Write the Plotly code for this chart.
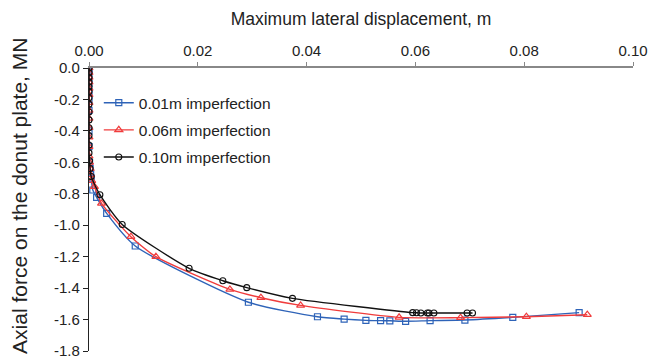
import plotly.graph_objects as go

blue_x = [0, 0, 0, 0, 0, 0, 0, 0, 0, 0.0001, 0.0002, 0.0003, 0.0004, 0.0007, 0.0014, 0.00325,
          0.0085, 0.0293, 0.042, 0.0469, 0.0509, 0.0536, 0.0553, 0.0582, 0.0627, 0.0691, 0.0779, 0.0901]
blue_y = [0, -0.02, -0.05, -0.1, -0.15, -0.2, -0.27, -0.4, -0.5, -0.6, -0.64, -0.67, -0.7, -0.776, -0.823, -0.925,
          -1.132, -1.49, -1.582, -1.597, -1.605, -1.607, -1.608, -1.611, -1.607, -1.603, -1.586, -1.556]

red_x = [0, 0, 0, 0, 0, 0, 0, 0, 0, 0, 0, 0, 0, 0.0001, 0.0002, 0.0003, 0.0005, 0.001, 0.0023,
         0.0077, 0.0123, 0.0259, 0.0316, 0.0389, 0.057, 0.0683, 0.0804, 0.0916]
red_y = [0, -0.03, -0.06, -0.09, -0.13, -0.17, -0.22, -0.27, -0.32, -0.38, -0.44, -0.5, -0.56, -0.6, -0.64, -0.68,
         -0.717, -0.755, -0.861, -1.073, -1.2, -1.408, -1.461, -1.51, -1.586, -1.588, -1.582, -1.569]

black_x = [0, 0, 0, 0, 0, 0, 0, 0, 0, 0, 0, 0, 0, 0, 0.0001, 0.0002, 0.0004, 0.002, 0.0061, 0.0184, 0.0246,
           0.029, 0.0374, 0.0595, 0.0602, 0.061, 0.0622, 0.0625, 0.0634, 0.0695, 0.0705]
black_y = [0, -0.03, -0.06, -0.09, -0.12, -0.15, -0.19, -0.23, -0.28, -0.33, -0.38, -0.43, -0.49, -0.54, -0.59,
           -0.64, -0.69, -0.806, -0.995, -1.274, -1.353, -1.397, -1.465, -1.556, -1.557, -1.558, -1.558, -1.558,
           -1.558, -1.558, -1.558]

series_names = ["0.01m imperfection", "0.06m imperfection", "0.10m imperfection"]

x_tickvals = [0, 0.02, 0.04, 0.06, 0.08, 0.10]
x_ticktext = ["0.00", "0.02", "0.04", "0.06", "0.08", "0.10"]
y_tickvals = [0, -0.2, -0.4, -0.6, -0.8, -1.0, -1.2, -1.4, -1.6, -1.8]
y_ticktext = ["0.0", "-0.2", "-0.4", "-0.6", "-0.8", "-1.0", "-1.2", "-1.4", "-1.6", "-1.8"]

x_title = "Maximum lateral displacement, m"
y_title = "Axial force on the donut plate, MN"

fig = go.Figure()
fig.add_trace(go.Scatter(x=blue_x, y=blue_y, name=series_names[0], legendgroup="a",
                         mode="lines+markers", line=dict(color="#2E63B8", width=1.4, shape="spline", smoothing=0.6),
                         marker=dict(symbol="square-open", size=6, color="#2E63B8", line=dict(width=1.2))))
fig.add_trace(go.Scatter(x=red_x, y=red_y, name=series_names[1], legendgroup="b",
                         mode="lines+markers", line=dict(color="#F03C3C", width=1.4, shape="spline", smoothing=0.6),
                         marker=dict(symbol="triangle-up-open", size=7, color="#F03C3C", line=dict(width=1.2))))
fig.add_trace(go.Scatter(x=black_x, y=black_y, name=series_names[2], legendgroup="c",
                         mode="lines+markers", line=dict(color="#111111", width=1.4, shape="spline", smoothing=0.6),
                         marker=dict(symbol="circle-open", size=6, color="#111111", line=dict(width=1.1))))

font_family = "Liberation Sans, Arial, sans-serif"
fig.update_layout(
    width=665, height=363,
    margin=dict(l=81, r=40, t=60, b=20),
    paper_bgcolor="white", plot_bgcolor="white",
    font=dict(family=font_family, size=15, color="#222"),
    showlegend=True,
    legend=dict(x=0.018, y=0.936, xanchor="left", yanchor="top", bgcolor="rgba(0,0,0,0)",
                font=dict(size=15.5, color="#222"), tracegroupgap=4, itemwidth=30),
    xaxis=dict(side="top", range=[0, 0.1], tickvals=x_tickvals, ticktext=x_ticktext, automargin=False,
               showgrid=False, zeroline=False, showline=True, linecolor="#888", linewidth=1.5,
               ticks="outside", ticklen=4, tickcolor="#888", tickfont=dict(size=15),
               title=dict(text=x_title, font=dict(size=17.5), standoff=12)),
    yaxis=dict(range=[-1.8, 0], tickvals=y_tickvals, ticktext=y_ticktext, automargin=False,
               showgrid=False, zeroline=False, showline=True, linecolor="#222", linewidth=1.2,
               ticks="outside", ticklen=5, tickcolor="#222", tickfont=dict(size=15)),
    annotations=[dict(text=y_title, textangle=-90, xref="paper", yref="paper", x=0, y=0.548,
                      xanchor="center", yanchor="middle", xshift=-69, showarrow=False,
                      font=dict(size=21, color="#222"))],
)
fig.write_html("out.html")
